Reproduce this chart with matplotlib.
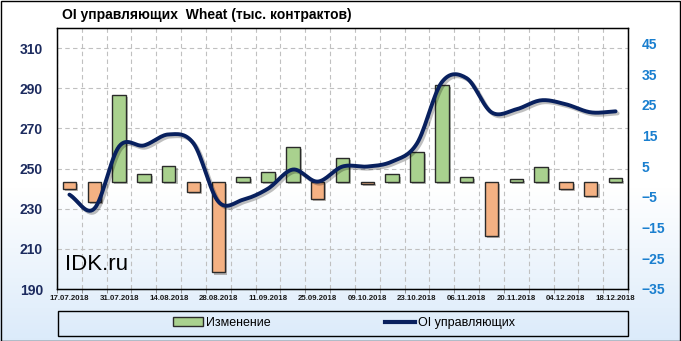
import numpy as np
import matplotlib.pyplot as plt
import matplotlib.patheffects as pe
from matplotlib.patches import Rectangle, Patch
from matplotlib.lines import Line2D

# weekly data
dates = ['17.07.2018', '24.07.2018', '31.07.2018', '07.08.2018', '14.08.2018', '21.08.2018',
         '28.08.2018', '04.09.2018', '11.09.2018', '18.09.2018', '25.09.2018', '02.10.2018',
         '09.10.2018', '16.10.2018', '23.10.2018', '30.10.2018', '06.11.2018', '13.11.2018',
         '20.11.2018', '27.11.2018', '04.12.2018', '11.12.2018', '18.12.2018']
oi = [237, 230, 261, 261.5, 267, 262.5, 233.5, 234.5, 240, 249.5, 243.5, 251,
      251, 253.5, 262.5, 293, 295, 278, 279.5, 284, 282, 278, 278.5]
change = [-2.5, -6.6, 28.2, 2.4, 5.1, -3.5, -29.6, 1.4, 3.2, 11.3, -5.8, 7.8,
          -0.9, 2.3, 9.7, 31.4, 1.4, -17.7, 0.8, 4.8, -2.5, -4.6, 1.0]

title = 'OI управляющих  Wheat (тыс. контрактов)'
left_ticks = [190, 210, 230, 250, 270, 290, 310]
right_ticks = [-35, -25, -15, -5, 5, 15, 25, 35, 45]

plt.rcParams['font.family'] = ['Liberation Sans', 'DejaVu Sans']

green = '#a9d18e'
orange = '#f4b183'
navy = '#08205e'


def catmull_rom(xs, ys, n=16):
    # smooth curve through the points, like excel's smoothed line
    xs = np.asarray(xs, float)
    ys = np.asarray(ys, float)
    px = np.concatenate([[2 * xs[0] - xs[1]], xs, [2 * xs[-1] - xs[-2]]])
    py = np.concatenate([[2 * ys[0] - ys[1]], ys, [2 * ys[-1] - ys[-2]]])
    out_x, out_y = [], []
    t = np.linspace(0, 1, n, endpoint=False)
    for i in range(1, len(px) - 2):
        for p, out in ((px, out_x), (py, out_y)):
            p0, p1, p2, p3 = p[i - 1], p[i], p[i + 1], p[i + 2]
            out.extend(0.5 * ((2 * p1) + (-p0 + p2) * t + (2 * p0 - 5 * p1 + 4 * p2 - p3) * t ** 2
                              + (-p0 + 3 * p1 - 3 * p2 + p3) * t ** 3))
    out_x.append(xs[-1])
    out_y.append(ys[-1])
    return np.array(out_x), np.array(out_y)


W, H = 681, 341
fig = plt.figure(figsize=(W / 100, H / 100), dpi=100)

# background gradient
bg = fig.add_axes([0, 0, 1, 1], zorder=-10)
rows = np.linspace(0, 1, H)
k = np.clip((rows - 0.55) / 0.45, 0, 1)
top = np.array([1.0, 1.0, 1.0])
bot = np.array([0.86, 0.92, 0.98])
grad = top[None, :] * (1 - k[:, None]) + bot[None, :] * k[:, None]
bg.imshow(grad[:, None, :], aspect='auto', extent=[0, 1, 0, 1])
bg.axis('off')

rect = [57 / W, 1 - 289 / H, 571 / W, 261 / H]
x = np.arange(len(dates))

# left scale axes: grid + ticks
ax = fig.add_axes(rect, zorder=1)
ax.patch.set_visible(False)
ax.set_ylim(190, 320)
ax.set_xlim(-0.5, len(dates) - 0.5)
ax.set_yticks(left_ticks)
ax.set_xticks(x[::2])
ax.set_xticklabels(dates[::2], fontsize=5.7, fontweight='bold', color='#1a1a1a')
ax.set_xticks(np.arange(-0.5, len(dates), 1), minor=True)
ax.tick_params(axis='x', which='major', length=0, pad=4)
ax.tick_params(axis='x', which='minor', length=3, color='#808080')
ax.tick_params(axis='y', length=0, pad=10, labelsize=10, labelcolor='#1b2a5e')
for lab in ax.get_yticklabels():
    lab.set_fontweight('bold')
ax.grid(axis='y', which='major', linestyle=(0, (4, 3)), color='#c0c0c0', lw=0.8)
ax.grid(axis='x', which='minor', linestyle=(0, (4, 3)), color='#c0c0c0', lw=0.8)
for s in ax.spines.values():
    s.set_color('black')
    s.set_linewidth(1)

# right scale axes: bars
axr = ax.twinx()
axr.set_zorder(2)
axr.patch.set_visible(False)
axr.set_ylim(-35, 50)
axr.set_yticks(right_ticks)
axr.tick_params(axis='y', length=0, pad=10, labelsize=10, labelcolor='#1a7fcf')
for lab in axr.get_yticklabels():
    lab.set_fontweight('bold')
colors = [green if v >= 0 else orange for v in change]
bars = axr.bar(x, change, width=0.54, color=colors, edgecolor='#2a2a2a', linewidth=1)
for b in bars:
    b.set_path_effects([pe.SimplePatchShadow(offset=(1.5, -1.5), alpha=0.35), pe.Normal()])

# line on top, left scale
axl = fig.add_axes(rect, zorder=3, sharex=ax, sharey=ax)
axl.patch.set_visible(False)
axl.axis('off')
sx, sy = catmull_rom(x, oi)
axl.plot(sx, sy, color=navy, lw=2.8, solid_capstyle='round',
         path_effects=[pe.SimpleLineShadow(offset=(1.5, -1.5), alpha=0.25), pe.Normal()])

fig.text(62 / W, 1 - 15 / H, title, ha='left', va='center', fontsize=10, fontweight='bold')
fig.text(65 / W, 1 - 265 / H, 'IDK.ru', ha='left', va='center', fontsize=16, zorder=5)

# legend
handles = [Patch(facecolor=green, edgecolor='#2a2a2a'), Line2D([], [], color=navy, lw=3)]
fig.legend(handles, ['Изменение', 'OI управляющих'], loc='center',
           bbox_to_anchor=(344 / W, 1 - 323 / H), ncol=2, frameon=False, fontsize=9,
           columnspacing=9.2, handlelength=2.4, handletextpad=0.2)
fig.add_artist(Rectangle((58 / W, 1 - 336 / H), 570 / W, 25 / H, transform=fig.transFigure,
                         fill=False, edgecolor='black', lw=1))
fig.add_artist(Rectangle((0.5 / W, 0.5 / H), (W - 1.5) / W, (H - 1.5) / H, transform=fig.transFigure,
                         fill=False, edgecolor='black', lw=1))

fig.savefig('out.png', dpi=100)
